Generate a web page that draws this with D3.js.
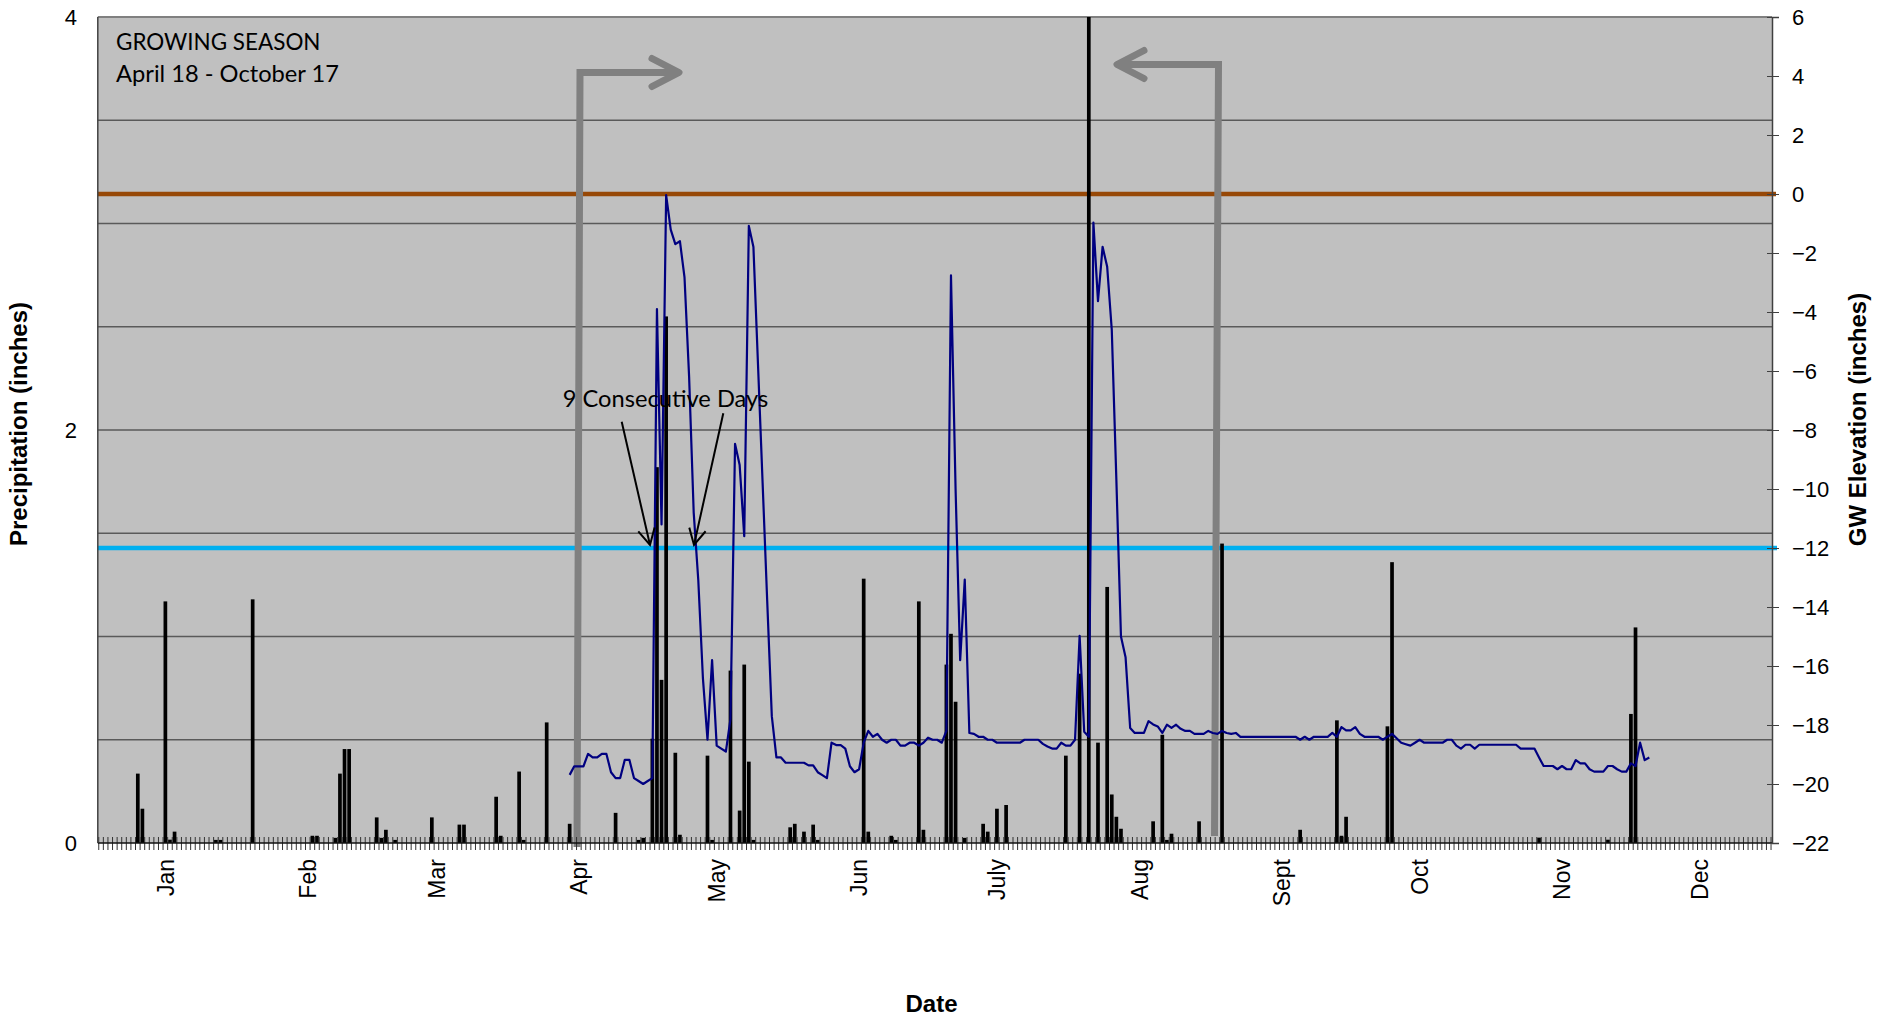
<!DOCTYPE html>
<html><head><meta charset="utf-8">
<script src="https://cdn.jsdelivr.net/npm/d3@7"></script>
<style>
html,body{margin:0;padding:0;background:#fff;}
svg{display:block;}
</style></head>
<body>
<svg id="chart" width="1893" height="1020"></svg>
<script>
// ---------------- DATA ----------------
const monthLabels = ["Jan","Feb","Mar","Apr","May","Jun","July","Aug","Sept","Oct","Nov","Dec"];
const monthTickDates = ["2010-01-01","2010-02-01","2010-03-01","2010-04-01","2010-05-01","2010-06-01",
  "2010-07-01","2010-08-01","2010-09-01","2010-10-01","2010-11-01","2010-12-01"];
const precipTicks = [0, 2, 4];
const precipGridlines = [0.5, 1, 1.5, 2, 2.5, 3, 3.5];
const gwTicks = [-22,-20,-18,-16,-14,-12,-10,-8,-6,-4,-2,0,2,4,6];

// daily precipitation (inches), non-zero days only
const precipDates = [
  "2009-12-26","2009-12-27","2010-01-01","2010-01-02","2010-01-03","2010-01-12","2010-01-13","2010-01-20",
  "2010-02-02","2010-02-03","2010-02-07","2010-02-08","2010-02-09","2010-02-10","2010-02-16","2010-02-17",
  "2010-02-18","2010-02-20","2010-02-28","2010-03-06","2010-03-07","2010-03-14","2010-03-15","2010-03-19",
  "2010-03-20","2010-03-25","2010-03-30","2010-04-09","2010-04-14","2010-04-15","2010-04-17","2010-04-18",
  "2010-04-19","2010-04-20","2010-04-22","2010-04-23","2010-04-29","2010-04-30","2010-05-04","2010-05-06",
  "2010-05-07","2010-05-08","2010-05-09","2010-05-17","2010-05-18","2010-05-20","2010-05-22","2010-05-23",
  "2010-06-02","2010-06-03","2010-06-08","2010-06-09","2010-06-14","2010-06-15","2010-06-20","2010-06-21",
  "2010-06-22","2010-06-24","2010-06-28","2010-06-29","2010-07-01","2010-07-03","2010-07-16","2010-07-19",
  "2010-07-21","2010-07-23","2010-07-25","2010-07-26","2010-07-27","2010-07-28","2010-08-04","2010-08-06",
  "2010-08-07","2010-08-08","2010-08-14","2010-08-19","2010-09-05","2010-09-13","2010-09-14","2010-09-15",
  "2010-09-24","2010-09-25","2010-10-27","2010-11-11","2010-11-16","2010-11-17"];
const precipValues = [
  0.336,0.166,1.17,0.016,0.055,0.015,0.015,1.18,
  0.035,0.035,0.025,0.336,0.455,0.455,0.124,0.025,
  0.064,0.015,0.124,0.089,0.089,0.224,0.035,0.346,
  0.015,0.584,0.093,0.146,0.015,0.025,0.505,1.82,
  0.79,2.55,0.437,0.04,0.423,0.015,0.835,0.157,
  0.864,0.394,0.015,0.076,0.093,0.055,0.089,0.015,
  1.28,0.055,0.035,0.015,1.17,0.064,0.864,1.013,
  0.684,0.025,0.093,0.055,0.166,0.184,0.423,0.82,
  4.2,0.486,1.24,0.235,0.127,0.069,0.105,0.524,
  0.015,0.045,0.105,1.45,0.064,0.594,0.035,0.127,
  0.565,1.36,0.026,0.016,0.625,1.044];

// daily groundwater elevation (inches), consecutive days from gwStartDate
const gwStartDate = "2010-03-30";
const gwValues = [
  -19.69,-19.4,-19.4,-19.4,-18.98,-19.1,-19.1,-18.98,-18.98,-19.6,-19.8,-19.8,
  -19.18,-19.18,-19.8,-19.9,-20.0,-19.9,-19.8,-3.9,-11.2,-0.04,-1.21,-1.7,
  -1.6,-2.83,-6.2,-10.8,-13.1,-16.4,-18.5,-15.8,-18.7,-18.8,-18.9,-17.8,
  -8.47,-9.19,-11.6,-1.08,-1.8,-5.8,-9.8,-13.8,-17.7,-19.1,-19.1,-19.28,
  -19.28,-19.28,-19.28,-19.28,-19.37,-19.37,-19.6,-19.7,-19.8,-18.6,-18.68,-18.68,
  -18.8,-19.4,-19.6,-19.5,-18.6,-18.2,-18.4,-18.3,-18.5,-18.6,-18.5,-18.5,
  -18.7,-18.7,-18.6,-18.6,-18.7,-18.6,-18.43,-18.5,-18.5,-18.6,-18.2,-2.76,
  -10.0,-15.8,-13.07,-18.27,-18.3,-18.4,-18.4,-18.5,-18.5,-18.6,-18.6,-18.6,
  -18.6,-18.6,-18.6,-18.5,-18.5,-18.5,-18.5,-18.64,-18.73,-18.8,-18.8,-18.6,
  -18.7,-18.7,-18.5,-14.98,-18.23,-18.4,-0.97,-3.63,-1.79,-2.47,-4.61,-9.7,
  -15.0,-15.7,-18.1,-18.27,-18.27,-18.27,-17.87,-17.98,-18.05,-18.27,-17.99,-18.1,
  -17.99,-18.13,-18.2,-18.2,-18.3,-18.3,-18.3,-18.2,-18.27,-18.3,-18.2,-18.27,
  -18.3,-18.27,-18.4,-18.4,-18.4,-18.4,-18.4,-18.4,-18.4,-18.4,-18.4,-18.4,
  -18.4,-18.4,-18.4,-18.5,-18.4,-18.5,-18.4,-18.4,-18.4,-18.4,-18.27,-18.4,
  -18.07,-18.18,-18.18,-18.07,-18.3,-18.4,-18.4,-18.4,-18.4,-18.5,-18.4,-18.3,
  -18.45,-18.6,-18.65,-18.7,-18.6,-18.5,-18.6,-18.6,-18.6,-18.6,-18.6,-18.5,
  -18.5,-18.7,-18.8,-18.67,-18.67,-18.8,-18.67,-18.67,-18.67,-18.67,-18.67,-18.67,
  -18.67,-18.67,-18.67,-18.8,-18.8,-18.8,-18.8,-19.1,-19.39,-19.39,-19.39,-19.5,
  -19.39,-19.5,-19.5,-19.19,-19.3,-19.3,-19.5,-19.58,-19.58,-19.58,-19.39,-19.39,
  -19.5,-19.58,-19.58,-19.3,-19.39,-18.6,-19.19,-19.1];

// reference levels on the GW axis
const gwSurfaceLevel = 0;
const gwRootZoneLevel = -12;

// annotations
const seasonTitle = "GROWING SEASON";
const seasonRange = "April 18 - October 17";
const consecutiveNote = "9 Consecutive Days";

// ---------------- CHART ----------------
const W = 1893, H = 1020;
const plot = {left: 97.8, right: 1772, top: 17, bottom: 843};
const parse = d3.utcParse("%Y-%m-%d");

const x = d3.scaleUtc()
  .domain([new Date(Date.UTC(2009, 11, 17, 7)), new Date(Date.UTC(2010, 11, 16, 17))])
  .range([plot.left, plot.right]);
const yP = d3.scaleLinear().domain([0, 4]).range([plot.bottom, plot.top]);
const yG = d3.scaleLinear().domain([-22, 6]).range([plot.bottom, plot.top]);

const svg = d3.select("#chart");
svg.append("rect").attr("width", W).attr("height", H).attr("fill", "#fff");
svg.append("defs").append("clipPath").attr("id", "clip").append("rect")
  .attr("x", plot.left).attr("y", plot.top)
  .attr("width", plot.right - plot.left).attr("height", plot.bottom - plot.top);

// plot area
svg.append("rect")
  .attr("x", plot.left).attr("y", plot.top)
  .attr("width", plot.right - plot.left).attr("height", plot.bottom - plot.top)
  .attr("fill", "#C0C0C0");

// gridlines
svg.append("g").selectAll("line").data(precipGridlines).join("line")
  .attr("x1", plot.left).attr("x2", plot.right)
  .attr("y1", d => yP(d)).attr("y2", d => yP(d))
  .attr("stroke", "#5a5a5a").attr("stroke-width", 1.3);

// top border
svg.append("line").attr("x1", plot.left).attr("x2", plot.right)
  .attr("y1", plot.top).attr("y2", plot.top)
  .attr("stroke", "#808080").attr("stroke-width", 2);

// reference levels
svg.append("line").attr("x1", plot.left).attr("x2", plot.right + 4)
  .attr("y1", yG(gwSurfaceLevel)).attr("y2", yG(gwSurfaceLevel))
  .attr("stroke", "#974806").attr("stroke-width", 4.5);
svg.append("line").attr("x1", plot.left).attr("x2", plot.right + 5)
  .attr("y1", yG(gwRootZoneLevel)).attr("y2", yG(gwRootZoneLevel))
  .attr("stroke", "#00B0F0").attr("stroke-width", 4.5);

// growing-season arrows (drawn shapes)
const arrowG = svg.append("g").attr("fill", "none").attr("stroke", "#808080").attr("stroke-width", 7);
arrowG.append("path").attr("d", "M577,847 L580,72.5 L678,72.5").attr("stroke-linejoin", "miter");
arrowG.append("path").attr("d", "M652,58.5 L679,72.5 L652,86.5").attr("stroke-linecap", "round").attr("stroke-linejoin", "round");
arrowG.append("path").attr("d", "M1214.5,836 L1218.5,64.5 L1118,64.5").attr("stroke-linejoin", "miter");
arrowG.append("path").attr("d", "M1144,50.5 L1117,64.5 L1144,78.5").attr("stroke-linecap", "round").attr("stroke-linejoin", "round");

// precipitation bars
const precip = precipDates.map((d, i) => ({date: parse(d), value: precipValues[i]}));
svg.append("g").attr("clip-path", "url(#clip)").selectAll("rect").data(precip).join("rect")
  .attr("x", d => x(d.date) - 1.85).attr("width", 3.7)
  .attr("y", d => yP(d.value)).attr("height", d => yP(0) - yP(d.value))
  .attr("fill", "#000");

// groundwater line
const gwStart = parse(gwStartDate);
const gw = gwValues.map((v, i) => ({date: d3.utcDay.offset(gwStart, i), value: v}));
svg.append("path").datum(gw)
  .attr("fill", "none").attr("stroke", "#000080").attr("stroke-width", 2.2)
  .attr("stroke-linejoin", "round")
  .attr("d", d3.line().x(d => x(d.date)).y(d => yG(d.value)));

// x axis: daily ticks crossing the axis line
const days = d3.utcDay.range(d3.utcDay.floor(x.domain()[0]), x.domain()[1]);
svg.append("g").selectAll("line").data(days).join("line")
  .attr("x1", d => x(new Date(+d + 12 * 3600e3))).attr("x2", d => x(new Date(+d + 12 * 3600e3)))
  .attr("y1", plot.bottom - 6).attr("y2", plot.bottom + 7)
  .attr("stroke", "#333").attr("stroke-width", 1)
  .filter(function(d){ const px = x(new Date(+d + 12 * 3600e3)); return px < plot.left || px > plot.right; }).remove();
svg.append("line").attr("x1", plot.left).attr("x2", plot.right)
  .attr("y1", plot.bottom).attr("y2", plot.bottom)
  .attr("stroke", "#111").attr("stroke-width", 1.6);

// month labels
svg.append("g").selectAll("text").data(monthTickDates).join("text")
  .attr("transform", d => `translate(${x(parse(d))},859) rotate(-90)`)
  .attr("text-anchor", "end").attr("dy", "0.36em")
  .attr("font-family", "'Liberation Sans', Arial, sans-serif").attr("font-size", 23)
  .attr("fill", "#000")
  .text((d, i) => monthLabels[i]);

// left axis
svg.append("line").attr("x1", plot.left).attr("x2", plot.left)
  .attr("y1", plot.top).attr("y2", plot.bottom)
  .attr("stroke", "#404040").attr("stroke-width", 1.5);
svg.append("g").selectAll("text").data(precipTicks).join("text")
  .attr("x", 77).attr("y", d => yP(d)).attr("dy", "0.36em")
  .attr("text-anchor", "end")
  .attr("font-family", "'Liberation Sans', Arial, sans-serif").attr("font-size", 22)
  .text(d => d);

// right axis
const rightAxis = d3.axisRight(yG).tickValues(gwTicks).tickSize(7).tickPadding(13).tickFormat(d3.format("d"));
const ra = svg.append("g").attr("transform", `translate(${plot.right},0)`).call(rightAxis);
ra.select(".domain").attr("stroke", "#404040").attr("stroke-width", 1.5);
ra.selectAll(".tick line").attr("stroke", "#404040").attr("x1", -5);
ra.selectAll(".tick text").attr("font-family", "'Liberation Sans', Arial, sans-serif").attr("font-size", 22).attr("fill", "#000");
const minorTicks = yG.ticks(70).filter(v => Math.abs(v / 0.4 - Math.round(v / 0.4)) < 1e-6 && !gwTicks.includes(v));
svg.append("g").selectAll("line").data(minorTicks).join("line")
  .attr("x1", plot.right - 5).attr("x2", plot.right)
  .attr("y1", d => yG(d)).attr("y2", d => yG(d))
  .attr("stroke", "#404040").attr("stroke-width", 1);

// axis titles
const titleFont = "'Liberation Sans', Arial, sans-serif";
svg.append("text").attr("transform", "translate(26.5,424) rotate(-90)")
  .attr("text-anchor", "middle").attr("font-family", titleFont).attr("font-weight", "bold").attr("font-size", 24)
  .text("Precipitation (inches)");
svg.append("text").attr("transform", "translate(1866,419.5) rotate(-90)")
  .attr("text-anchor", "middle").attr("font-family", titleFont).attr("font-weight", "bold").attr("font-size", 24)
  .text("GW Elevation (inches)");
svg.append("text").attr("x", 931.5).attr("y", 1011.5)
  .attr("text-anchor", "middle").attr("font-family", titleFont).attr("font-weight", "bold").attr("font-size", 24)
  .text("Date");

// annotations
const noteFont = "Lato, 'Open Sans', sans-serif";
svg.append("text").attr("x", 116).attr("y", 50)
  .attr("font-family", noteFont).attr("font-size", 23).attr("fill", "#000")
  .attr("textLength", 204.5).attr("lengthAdjust", "spacingAndGlyphs")
  .text(seasonTitle);
svg.append("text").attr("x", 116).attr("y", 81.7)
  .attr("font-family", noteFont).attr("font-size", 23).attr("fill", "#000")
  .attr("textLength", 223).attr("lengthAdjust", "spacingAndGlyphs")
  .text(seasonRange);
svg.append("text").attr("x", 562.7).attr("y", 407.3)
  .attr("font-family", noteFont).attr("font-size", 23).attr("fill", "#000")
  .attr("textLength", 205.6).attr("lengthAdjust", "spacingAndGlyphs")
  .text(consecutiveNote);

// "9 consecutive days" pointer arrows
function pointer(x1, y1, x2, y2) {
  const g = svg.append("g").attr("stroke", "#000").attr("stroke-width", 2).attr("fill", "none");
  g.append("line").attr("x1", x1).attr("y1", y1).attr("x2", x2).attr("y2", y2);
  const a = Math.atan2(y2 - y1, x2 - x1), L = 18, s = Math.PI / 6.5;
  g.append("path").attr("d",
    `M${x2 - L * Math.cos(a - s)},${y2 - L * Math.sin(a - s)} L${x2},${y2} L${x2 - L * Math.cos(a + s)},${y2 - L * Math.sin(a + s)}`);
}
pointer(621.7, 421.7, 650, 545);
pointer(723.3, 413.3, 694, 545);
</script>
</body></html>
